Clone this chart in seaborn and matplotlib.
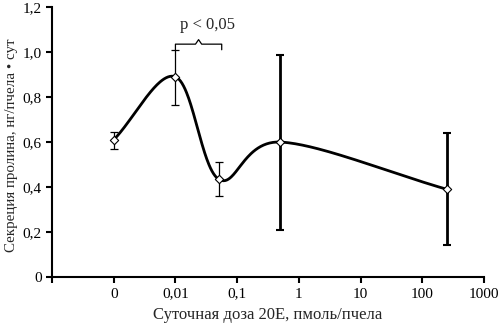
import numpy as np
import pandas as pd
import matplotlib
matplotlib.use("Agg")
import matplotlib.pyplot as plt
import seaborn as sns

# Data
dose_labels = ["0", "0,01", "0,1", "1", "10", "100", "1000"]
tick_logs = [-3, -2, -1, 0, 1, 2, 3]
dose_log = [-3.0, -2.0, -1.3, -0.3, 2.4]          # 0 drawn at the "0" position
secretion = [0.61, 0.89, 0.435, 0.60, 0.39]
err_low = [0.57, 0.765, 0.36, 0.21, 0.142]
err_high = [0.645, 1.01, 0.51, 0.985, 0.64]
thick_err = [False, False, False, True, True]
y_ticks = [0, 0.2, 0.4, 0.6, 0.8, 1.0, 1.2]
y_tick_labels = ["0", "0,2", "0,4", "0,6", "0,8", "1,0", "1,2"]

sns.set_style("ticks")
plt.rcParams['font.family'] = ['Liberation Serif', 'DejaVu Serif']

fig = plt.figure(figsize=(5.03, 3.26), dpi=100)
ax = fig.add_axes([0.1034, 0.150, 0.8588, 0.8285])

# smooth (Catmull-Rom) curve through the points
P = np.column_stack([dose_log, secretion])
ext = np.vstack([2 * P[0] - P[1], P, 2 * P[-1] - P[-2]])
cx, cy = [], []
t = np.linspace(0, 1, 60)
for i in range(1, len(ext) - 2):
    p0, p1, p2, p3 = ext[i - 1], ext[i], ext[i + 1], ext[i + 2]
    seg = 0.5 * ((2 * p1)[None, :] + np.outer(t, (-p0 + p2)) +
                 np.outer(t ** 2, (2 * p0 - 5 * p1 + 4 * p2 - p3)) +
                 np.outer(t ** 3, (-p0 + 3 * p1 - 3 * p2 + p3)))
    cx.extend(seg[:, 0]); cy.extend(seg[:, 1])
curve = pd.DataFrame({"x": cx, "y": cy})
sns.lineplot(data=curve, x="x", y="y", sort=False, color="black", lw=2.0, ax=ax)

for x, y, lo, hi, thick in zip(dose_log, secretion, err_low, err_high, thick_err):
    ax.errorbar([x], [y], yerr=[[y - lo], [hi - y]], fmt="none", ecolor="black",
                elinewidth=2.0 if thick else 0.9, capsize=3, capthick=0.9 if not thick else 1.5)

pts = pd.DataFrame({"x": dose_log, "y": secretion})
sns.scatterplot(data=pts, x="x", y="y", marker="D", s=18, facecolor="white",
                edgecolor="black", linewidth=0.8, ax=ax, zorder=5)

# significance bracket
bx0, bx1, by = dose_log[1], dose_log[2] + 0.05, 1.01
bm = (bx0 + bx1) / 2
ax.plot([bx0, bx0, bm - 0.05, bm, bm + 0.05, bx1, bx1],
        [by, by + 0.025, by + 0.025, by + 0.045, by + 0.025, by + 0.025, by], color="black", lw=0.9)
ax.text(bm + 0.15, 1.085, "p < 0,05", ha="center", va="bottom", fontsize=12)

ax.set_xlim(-4, 3)
ax.set_ylim(0, 1.2)
ax.set_xticks([-4] + tick_logs)
ax.set_xticklabels([""] + dose_labels, fontsize=11)
ax.set_yticks(y_ticks)
ax.set_yticklabels(y_tick_labels, fontsize=11)
ax.set_xlabel("Суточная доза 20Е, пмоль/пчела", fontsize=12, labelpad=5)
ax.set_ylabel("Секреция пролина, нг/пчела • сут", fontsize=10.8)
ax.yaxis.set_label_coords(-0.078, 0.49)
ax.tick_params(axis="both", direction="out", length=4, width=1.5, color="black", labelcolor="black")
for s in ["top", "right"]:
    ax.spines[s].set_visible(False)
for s in ["left", "bottom"]:
    ax.spines[s].set_linewidth(1.5)
    ax.spines[s].set_color("black")

fig.savefig("out.png", dpi=100)
